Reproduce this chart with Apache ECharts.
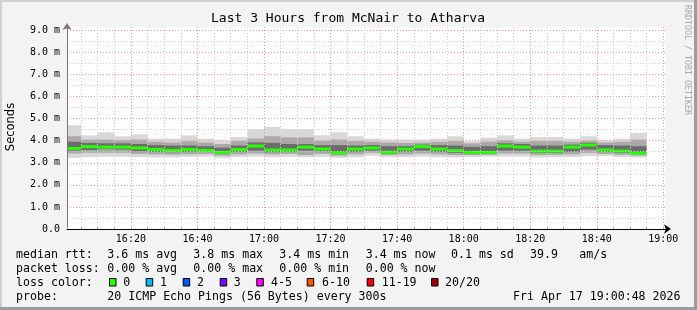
<!DOCTYPE html>
<html><head><meta charset="utf-8">
<script src="https://cdn.jsdelivr.net/npm/echarts@6/dist/echarts.min.js"></script>
<style>html,body{margin:0;padding:0;background:#f3f3f3}#c{width:697px;height:310px}</style>
</head><body><div id="c"></div>
<script>
// ---- data (values in milliseconds) ----
const viewStart = '16:00:48';
const viewEnd = '19:00:48';
const stepStarts = ['16:00','16:05','16:10','16:15','16:20','16:25','16:30','16:35','16:40','16:45','16:50','16:55',
  '17:00','17:05','17:10','17:15','17:20','17:25','17:30','17:35','17:40','17:45','17:50','17:55',
  '18:00','18:05','18:10','18:15','18:20','18:25','18:30','18:35','18:40','18:45','18:50'];
const stepLengthMin = 5;
const medianRtt = [3.65,3.73,3.71,3.71,3.67,3.60,3.56,3.60,3.56,3.47,3.60,3.76,3.58,3.58,3.71,3.62,3.45,3.62,3.67,3.48,3.62,3.73,3.62,3.55,3.47,3.47,3.76,3.71,3.53,3.53,3.71,3.80,3.58,3.53,3.44];
const maxRtt = [4.70,4.24,4.38,4.20,4.29,4.09,4.09,4.24,4.09,4.02,4.17,4.52,4.62,4.52,4.52,4.24,4.38,4.20,4.09,4.05,4.05,4.05,4.09,4.20,3.98,4.14,4.24,4.09,4.17,4.17,4.09,4.20,4.02,4.09,4.35];
const p90Rtt = [4.20,4.05,4.05,4.02,4.05,3.95,3.92,3.98,3.92,3.85,3.98,4.10,4.20,4.15,4.15,4.00,4.05,3.98,3.95,3.92,3.90,3.92,3.95,3.98,3.88,3.95,4.02,3.95,3.98,3.98,3.95,4.00,3.92,3.95,4.05];
const p75Rtt = [3.95,3.90,3.88,3.88,3.85,3.80,3.78,3.78,3.75,3.68,3.78,3.92,3.90,3.85,3.85,3.80,3.80,3.78,3.80,3.75,3.75,3.82,3.80,3.78,3.72,3.75,3.88,3.85,3.78,3.78,3.82,3.90,3.80,3.78,3.75];
const p25Rtt = [3.55,3.58,3.62,3.60,3.52,3.50,3.48,3.50,3.50,3.40,3.50,3.55,3.48,3.50,3.55,3.52,3.40,3.50,3.55,3.42,3.50,3.55,3.50,3.45,3.42,3.42,3.55,3.55,3.45,3.45,3.50,3.60,3.50,3.45,3.40];
const p10Rtt = [3.42,3.45,3.45,3.45,3.40,3.38,3.36,3.38,3.40,3.32,3.38,3.42,3.38,3.40,3.35,3.40,3.32,3.38,3.45,3.35,3.38,3.42,3.38,3.35,3.35,3.36,3.42,3.42,3.35,3.36,3.38,3.45,3.40,3.36,3.33];
const minRtt = [3.22,3.25,3.27,3.27,3.25,3.24,3.24,3.27,3.28,3.22,3.26,3.28,3.25,3.27,3.25,3.27,3.22,3.25,3.32,3.25,3.26,3.28,3.25,3.24,3.26,3.28,3.28,3.28,3.24,3.25,3.26,3.30,3.30,3.26,3.24];
const xTickLabels = ['16:20','16:40','17:00','17:20','17:40','18:00','18:20','18:40','19:00'];
const yTickValues = [0,1,2,3,4,5,6,7,8,9];
const yTickLabels = ['0.0','1.0 m','2.0 m','3.0 m','4.0 m','5.0 m','6.0 m','7.0 m','8.0 m','9.0 m'];
const yMax = 9.15;
const titleText = 'Last 3 Hours from McNair to Atharva';
const row1Labels = ['median rtt:','3.6 ms avg','3.8 ms max','3.4 ms min','3.4 ms now','0.1 ms sd','39.9','am/s'];
const row2Labels = ['packet loss:','0.00 % avg','0.00 % max','0.00 % min','0.00 % now'];
const lossLabels = ['0','1','2','3','4-5','6-10','11-19','20/20'];
const lossColors = ['#26ff00','#00b8ff','#0059ff','#7e00ff','#ff00ff','#ff5500','#ff0000','#a10000'];
const probeText = '20 ICMP Echo Pings (56 Bytes) every 300s';
const dateText = 'Fri Apr 17 19:00:48 2026';

// ---- helpers ----
const BASE = 16 * 60;
function toMin(s) { const p = s.split(':').map(Number); return p[0] * 60 + p[1] + (p[2] || 0) / 60 - BASE; }
const xMin = toMin(viewStart), xMax = toMin(viewEnd);
const labelByMin = {}; xTickLabels.forEach(l => labelByMin[Math.round(toMin(l))] = l);
const near = (a, b) => Math.abs(a - b) < 1e-6;

function bandData(lo, hi) {
  return stepStarts.map((s, i) => [toMin(s), toMin(s) + stepLengthMin, lo[i], hi[i]]);
}
function rectItem(params, api) {
  const p0 = api.coord([api.value(0), api.value(3)]);
  const p1 = api.coord([api.value(1), api.value(2)]);
  const cs = params.coordSys;
  const shape = echarts.graphic.clipRectByRect(
    { x: p0[0], y: p0[1], width: p1[0] - p0[0], height: p1[1] - p0[1] },
    { x: cs.x, y: cs.y, width: cs.width, height: cs.height });
  return shape && { type: 'rect', shape: shape, style: { fill: api.visual('color') } };
}
function medianItem(params, api) {
  const p0 = api.coord([api.value(0), api.value(2)]);
  const p1 = api.coord([api.value(1), api.value(2)]);
  const cs = params.coordSys;
  const shape = echarts.graphic.clipRectByRect(
    { x: p0[0], y: p0[1] - 1.5, width: p1[0] - p0[0], height: 3 },
    { x: cs.x, y: cs.y, width: cs.width, height: cs.height });
  return shape && { type: 'rect', shape: shape, style: { fill: api.visual('color') } };
}
function band(name, lo, hi, color) {
  return { type: 'custom', name: name, renderItem: rectItem, data: bandData(lo, hi),
    encode: { x: [0, 1], y: [2, 3] }, itemStyle: { color: color }, z: 2, silent: true };
}

const MONO = '"DejaVu Sans Mono", monospace';
const LF = '11.6px ' + MONO;
const graphics = [];
function txt(text, x, y, font, extra) {
  graphics.push(Object.assign({ type: 'text', x: x, y: y, silent: true,
    style: { text: text, font: font, fill: '#000', align: 'left', verticalAlign: 'middle',
      textAlign: 'left', textVerticalAlign: 'middle' } }, extra || {}));
}
// frame
graphics.push({ type: 'rect', shape: { x: 0, y: 0, width: 697, height: 2 }, style: { fill: '#d0d0d0' }, silent: true });
graphics.push({ type: 'rect', shape: { x: 0, y: 0, width: 2, height: 310 }, style: { fill: '#d0d0d0' }, silent: true });
graphics.push({ type: 'rect', shape: { x: 0, y: 307, width: 697, height: 3 }, style: { fill: '#9c9c9c' }, silent: true });
graphics.push({ type: 'rect', shape: { x: 694, y: 0, width: 3, height: 310 }, style: { fill: '#9c9c9c' }, silent: true });
// title
graphics.push({ type: 'text', x: 348, y: 19, silent: true,
  style: { text: titleText, font: '13px ' + MONO, fill: '#000', align: 'center', verticalAlign: 'middle', textAlign: 'center', textVerticalAlign: 'middle' } });
// vertical texts
graphics.push({ type: 'text', x: 11, y: 127, rotation: Math.PI / 2, silent: true,
  style: { text: 'Seconds', font: '11.5px "DejaVu Sans", sans-serif', fill: '#000', align: 'center', verticalAlign: 'middle', textAlign: 'center', textVerticalAlign: 'middle' } });
graphics.push({ type: 'text', x: 687, y: 60, rotation: -Math.PI / 2, silent: true,
  style: { text: 'RRDTOOL / TOBI OETIKER', font: '8.3px ' + MONO, fill: '#a8a8a8', align: 'center', verticalAlign: 'middle', textAlign: 'center', textVerticalAlign: 'middle' } });
// legend rows
const row1X = [16, 107.3, 193.3, 279.3, 365.7, 451, 530, 579.3];
row1Labels.forEach((t, i) => txt(t, row1X[i], 254.5, LF));
const row2X = [16, 107.3, 193.3, 279.3, 365.7];
row2Labels.forEach((t, i) => txt(t, row2X[i], 268.5, LF));
txt('loss color:', 16, 282.5, LF);
const boxX = [109, 145.7, 182.7, 219.7, 256.3, 306.7, 366.7, 431];
const lblX = [123.3, 160, 197, 233.7, 271, 322, 381.7, 445];
lossLabels.forEach((t, i) => {
  graphics.push({ type: 'rect', shape: { x: boxX[i] + 0.5, y: 278.5, width: 6.5, height: 7.5 }, silent: true,
    style: { fill: lossColors[i], stroke: '#000', lineWidth: 1 } });
  txt(t, lblX[i], 282.5, LF);
});
txt('probe:', 16, 296.5, LF);
txt(probeText, 107.3, 296.5, LF);
graphics.push({ type: 'text', x: 680.5, y: 296.5, silent: true,
  style: { text: dateText, font: LF, fill: '#000', align: 'right', verticalAlign: 'middle', textAlign: 'right', textVerticalAlign: 'middle' } });

const GRAY = '#cfcfcf', RED = '#f29a9a';
const chart = echarts.init(document.getElementById('c'), null, { renderer: 'canvas' });
chart.setOption({
  animation: false,
  backgroundColor: '#f3f3f3',
  grid: { left: 67, top: 27, width: 599, height: 202, show: true, backgroundColor: '#ffffff', borderWidth: 0, containLabel: false },
  xAxis: {
    type: 'value', min: xMin, max: xMax, minInterval: 5, maxInterval: 5, z: 5,
    axisLine: { show: true, lineStyle: { color: '#000', width: 1 }, symbol: ['none', 'arrow'], symbolSize: [7, 7], symbolOffset: [0, 5] },
    axisTick: { show: true, inside: true, length: 2, lineStyle: { color: '#aaa' } },
    axisLabel: { show: true, interval: 0, margin: 5, fontSize: 10, fontFamily: MONO, color: '#000',
      showMinLabel: true, showMaxLabel: true,
      formatter: v => { const k = Math.round(v); return near(v, k) && labelByMin[k] ? labelByMin[k] : ''; } },
    splitLine: { show: true, showMaxLine: false, lineStyle: { color: [RED, GRAY, GRAY, GRAY], type: [1, 2], width: 1 } }
  },
  yAxis: {
    type: 'value', min: 0, max: yMax, interval: 0.5, z: 5,
    axisLine: { show: true, lineStyle: { color: '#777', width: 1 }, symbol: ['none', 'arrow'], symbolSize: [7, 7], symbolOffset: [0, 4] },
    axisTick: { show: false },
    axisLabel: { show: true, margin: 7, fontSize: 10, fontFamily: MONO, color: '#000', showMaxLabel: false,
      formatter: v => { const i = yTickValues.findIndex(t => near(t, v)); return i >= 0 ? yTickLabels[i] : ''; } },
    splitLine: { show: true, showMaxLine: false, lineStyle: { color: [RED, GRAY], type: [1, 2], width: 1 } }
  },
  graphic: { elements: graphics },
  series: [
    band('range', minRtt, maxRtt, '#d8d8d8'),
    band('p10-p90', p10Rtt, p90Rtt, '#a9a9a9'),
    band('p25-p75', p25Rtt, p75Rtt, '#6c6c6c'),
    { type: 'custom', name: 'median', renderItem: medianItem,
      data: stepStarts.map((s, i) => [toMin(s), toMin(s) + stepLengthMin, medianRtt[i]]),
      encode: { x: [0, 1], y: 2 }, itemStyle: { color: '#26ff00' }, z: 3, silent: true }
  ]
});
</script></body></html>
